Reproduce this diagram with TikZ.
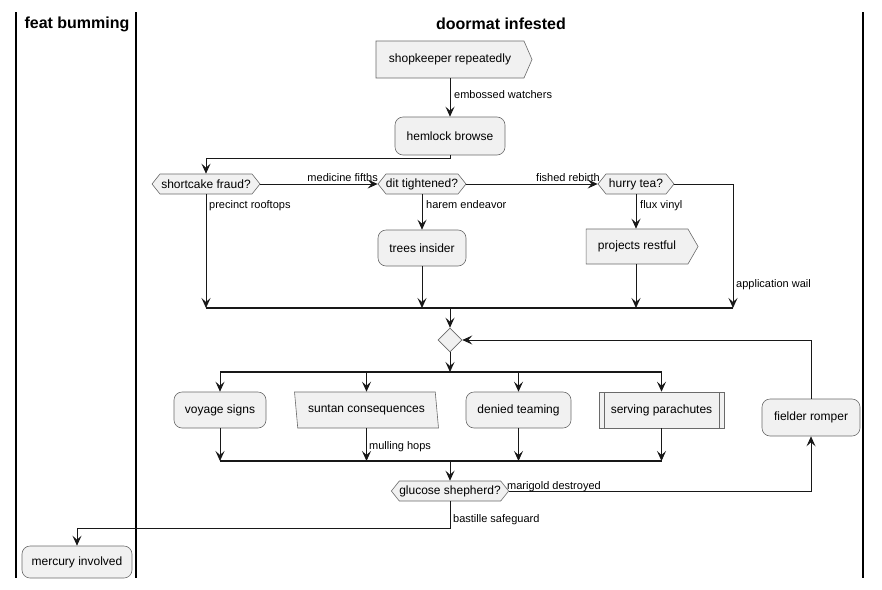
\documentclass[tikz,border=0pt]{standalone}
\usepackage{fontspec}
\setmainfont{Liberation Sans}
\usetikzlibrary{arrows.meta,shapes.geometric,shapes.symbols,calc}
\definecolor{nfill}{HTML}{F1F1F1}
\definecolor{nborder}{HTML}{6A6A6A}
\definecolor{ln}{HTML}{181818}
\begin{document}
\begin{tikzpicture}[x=1pt,y=-1pt,
  every node/.style={font=\fontsize{12}{14}\selectfont, text=black},
  base/.style={draw=nborder, fill=nfill, line width=0.6pt, inner sep=0pt},
  act/.style={base, rounded corners=8pt, minimum width=#1},
  hexa/.style={base, signal, signal to=west and east, signal pointer angle=103, minimum width=#1, minimum height=20pt},
  pent/.style={base, signal, signal to=east, minimum width=#1},
  para/.style={base, trapezium, trapezium left angle=105, trapezium right angle=75, trapezium stretches=true, minimum width=#1, minimum height=36pt},
  subp/.style={base, rectangle, minimum width=#1, minimum height=36pt,
    path picture={\draw[nborder, line width=0.6pt]
      ($(path picture bounding box.north west)+(5,0)$) -- ($(path picture bounding box.south west)+(5,0)$)
      ($(path picture bounding box.north east)+(-5,0)$) -- ($(path picture bounding box.south east)+(-5,0)$);}},
  dia/.style={base, diamond, minimum width=24pt, minimum height=24pt},
  arr/.style={draw=ln, line width=0.9pt, -{Stealth[length=10pt,width=9pt,inset=4pt]}},
  lin/.style={draw=ln, line width=0.9pt},
  bar/.style={draw=ln, line width=1.4pt},
  lbl/.style={font=\fontsize{11}{13}\selectfont, inner sep=0pt},
  head/.style={font=\fontsize{16}{19}\selectfont\bfseries},
  lane/.style={draw=black, line width=1.4pt}
]
\useasboundingbox (0,0) rectangle (882,589);
% lanes
\draw[lane] (16,12) -- (16,578);
\draw[lane] (136,12) -- (136,578);
\draw[lane] (863,12) -- (863,578);
\node[head] (h1) at (77,24) {feat bumming};
\node[head] (h2) at (501,24) {doormat infested};

% nodes
\node[pent=156, minimum height=37pt, signal pointer angle=133] (shop) at (450,59.5) {shopkeeper repeatedly};
\node[act=110, minimum height=38pt] (hem) at (450,136) {hemlock browse};
\node[hexa=108] (sc) at (206,184) {shortcake fraud?};
\node[hexa=88] (dt) at (422,184) {dit tightened?};
\node[hexa=76] (ht) at (636,184) {hurry tea?};
\node[act=88, minimum height=36pt] (trees) at (422,248) {trees insider};
\node[pent=112, minimum height=35pt, signal pointer angle=120] (proj) at (637,246.5) {projects restful};
\node[dia] (d1) at (450,340) {};
\node[act=92, minimum height=36pt] (voy) at (220,410) {voyage signs};
\node[para=144] (sun) at (366.5,410) {suntan consequences};
\node[act=105, minimum height=36pt] (den) at (518.5,410) {denied teaming};
\node[subp=125] (serv) at (661.5,410) {serving parachutes};
\node[act=98, minimum height=37pt] (fr) at (811,417.5) {fielder romper};
\node[hexa=115] (gs) at (450,491) {glucose shepherd?};
\node[act=110, minimum height=32pt] (mer) at (77,562) {mercury involved};

% helper coordinates
\coordinate (y158) at (0,158);
\coordinate (mbar) at (0,308);
\coordinate (mR) at (733,308);
\coordinate (fbar) at (0,372);
\coordinate (jbar) at (0,461);
\coordinate (ybot) at (0,528);

% connectors
\draw[arr] (shop.south -| hem.north) -- (hem.north);
\draw[arr] (hem.south) -- (hem.south |- y158) -| (sc.north);
\draw[arr] (sc.east) -- (dt.west);
\draw[arr] (dt.east) -- (ht.west);
\draw[arr] (sc.south) -- (sc.south |- mbar);
\draw[arr] (dt.south) -- (trees.north);
\draw[arr] (trees.south) -- (trees.south |- mbar);
\draw[arr] (ht.south) -- (ht.south |- proj.north);
\draw[arr] (proj.south -| ht.south) -- (ht.south |- mbar);
\draw[arr] (ht.east) -| (mR);
\draw[bar] (sc.south |- mbar) -- (mR);
\draw[arr] (d1.north |- mbar) -- (d1.north);

\draw[arr] (d1.south) -- (d1.south |- fbar);
\draw[bar] (voy.north |- fbar) -- (serv.north |- fbar);
\draw[arr] (voy.north |- fbar) -- (voy.north);
\draw[arr] (sun.north |- fbar) -- (sun.north);
\draw[arr] (den.north |- fbar) -- (den.north);
\draw[arr] (serv.north |- fbar) -- (serv.north);

\draw[arr] (voy.south) -- (voy.south |- jbar);
\draw[arr] (sun.south) -- (sun.south |- jbar);
\draw[arr] (den.south) -- (den.south |- jbar);
\draw[arr] (serv.south) -- (serv.south |- jbar);
\draw[bar] (voy.south |- jbar) -- (serv.south |- jbar);
\draw[arr] (gs.north |- jbar) -- (gs.north);

\draw[arr] (gs.east) -| (fr.south);
\draw[arr] (fr.north) |- (d1.east);
\draw[arr] (gs.south) -- (gs.south |- ybot) -| (mer.north);

% labels
\node[lbl, anchor=base west] (l1) at (454,98) {embossed watchers};
\node[lbl, anchor=base east] (l2) at (378,181) {medicine fifths};
\node[lbl, anchor=base east] (l3) at (600,181) {fished rebirth};
\node[lbl, anchor=base west] (l4) at (209,208) {precinct rooftops};
\node[lbl, anchor=base west] (l5) at (426,208) {harem endeavor};
\node[lbl, anchor=base west] (l6) at (640,208) {flux vinyl};
\node[lbl, anchor=base west] (l7) at (736,287) {application wail};
\node[lbl, anchor=base west] (l8) at (369,449) {mulling hops};
\node[lbl, anchor=base west] (l9) at (507,489) {marigold destroyed};
\node[lbl, anchor=base west] (l10) at (453,522) {bastille safeguard};
\end{tikzpicture}
\end{document}
